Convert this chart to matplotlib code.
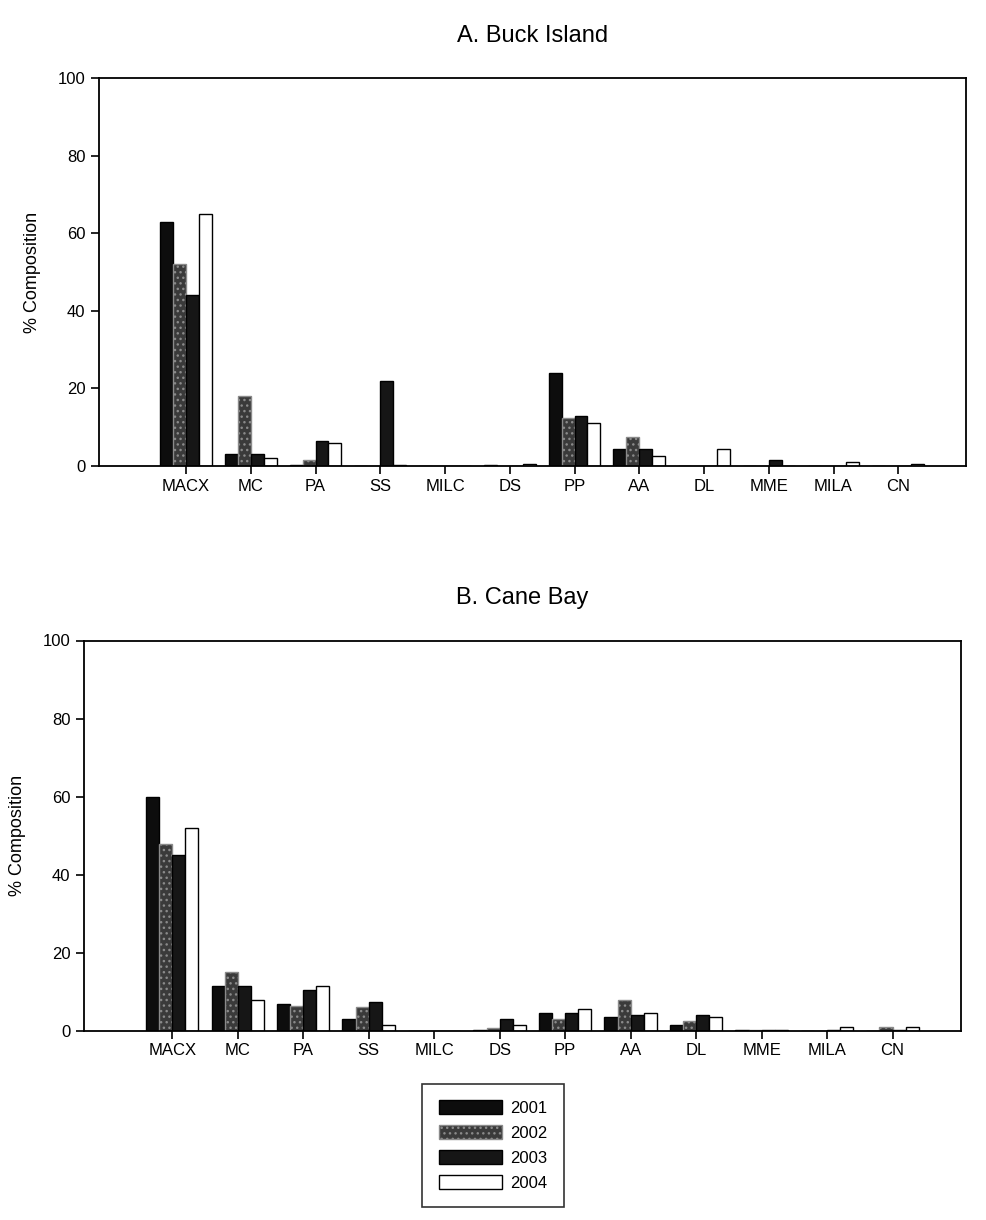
import matplotlib.pyplot as plt
import numpy as np

categories = ['MACX', 'MC', 'PA', 'SS', 'MILC', 'DS', 'PP', 'AA', 'DL', 'MME', 'MILA', 'CN']
years = ['2001', '2002', '2003', '2004']

# A. Buck Island
buck_2001 = [63, 3, 0.3, 0, 0, 0.3, 24, 4.5, 0, 0, 0, 0]
buck_2002 = [52, 18, 1.5, 0, 0, 0, 12.5, 7.5, 0, 0, 0, 0]
buck_2003 = [44, 3, 6.5, 22, 0, 0, 13, 4.5, 0, 1.5, 0, 0]
buck_2004 = [65, 2, 6, 0.3, 0, 0.6, 11, 2.5, 4.5, 0, 1, 0.5]

# B. Cane Bay
cane_2001 = [60, 11.5, 7, 3, 0, 0.3, 4.5, 3.5, 1.5, 0.3, 0, 0]
cane_2002 = [48, 15, 6.5, 6, 0, 0.8, 3, 8, 2.5, 0.3, 0, 1]
cane_2003 = [45, 11.5, 10.5, 7.5, 0, 3, 4.5, 4, 4, 0.3, 0.3, 0.3]
cane_2004 = [52, 8, 11.5, 1.5, 0, 1.5, 5.5, 4.5, 3.5, 0.3, 1, 1]

styles = [
    dict(color='#0d0d0d', edgecolor='black'),
    dict(color='#3a3a3a', edgecolor='#8a8a8a', hatch='...'),
    dict(color='#161616', edgecolor='black'),
    dict(color='white', edgecolor='black'),
]

plt.rcParams['font.family'] = ['Liberation Sans', 'DejaVu Sans']
plt.rcParams['font.size'] = 11


def plot_panel(ax, series, title):
    x = np.arange(len(categories))
    w = 0.2
    for i, vals in enumerate(series):
        ax.bar(x + (i - 1.5) * w, vals, w, label=years[i], linewidth=1.0, **styles[i])
    ax.set_xlim(-1.35, 12.05)
    ax.set_ylim(0, 100)
    ax.set_yticks([0, 20, 40, 60, 80, 100])
    ax.set_xticks(x)
    ax.set_xticklabels(categories, fontsize=12)
    ax.tick_params(axis='y', labelsize=12, length=6, width=1.2)
    ax.tick_params(axis='x', length=6, width=1.2, pad=3)
    ax.set_ylabel('% Composition', fontsize=13, labelpad=12)
    ax.set_title(title, fontsize=17, pad=26)
    for s in ax.spines.values():
        s.set_linewidth(1.3)


fig = plt.figure(figsize=(9.86, 12.2), dpi=100)
ax1 = fig.add_axes([0.100, 0.618, 0.880, 0.318])
ax2 = fig.add_axes([0.085, 0.155, 0.890, 0.320])

plot_panel(ax1, [buck_2001, buck_2002, buck_2003, buck_2004], 'A. Buck Island')
plot_panel(ax2, [cane_2001, cane_2002, cane_2003, cane_2004], 'B. Cane Bay')

handles, labels = ax2.get_legend_handles_labels()
leg = fig.legend(handles, labels, loc='center', bbox_to_anchor=(0.50, 0.061),
                 frameon=True, fancybox=False, edgecolor='black', fontsize=12,
                 handlelength=3.8, handleheight=0.9, borderpad=1.0, labelspacing=0.55,
                 handletextpad=0.5)
leg.get_frame().set_linewidth(1.2)

plt.savefig('out.png', dpi=100)
plt.close()
